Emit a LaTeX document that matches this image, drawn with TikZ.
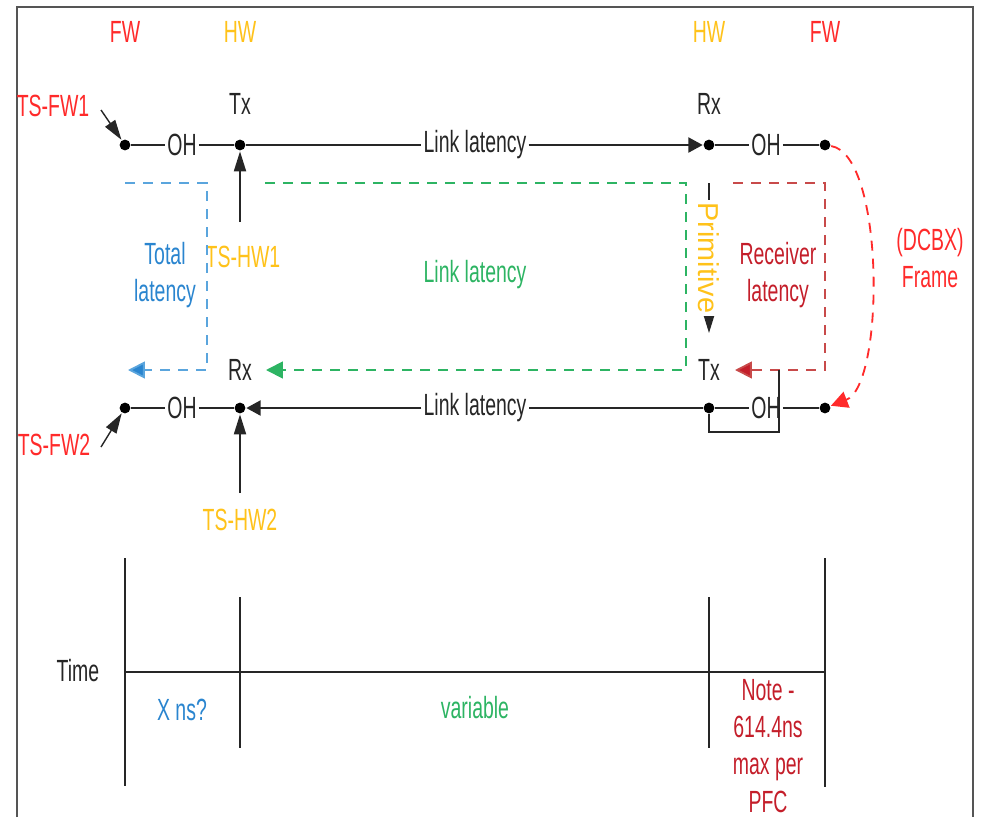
\documentclass[tikz,border=0pt]{standalone}
\usepackage{fontspec}
\setmainfont{Liberation Sans}[FakeStretch=0.635]
\newfontfamily\widefont{Liberation Sans}
\usetikzlibrary{arrows.meta, positioning}
\definecolor{cred}{HTML}{FF2A2A}
\definecolor{chw}{HTML}{FFC21A}
\definecolor{cblue}{HTML}{2A85CF}
\definecolor{cbluel}{HTML}{5AA5DD}
\definecolor{cgreen}{HTML}{2DB463}
\definecolor{cdred}{HTML}{C41E2A}
\definecolor{credl}{HTML}{C84A4A}
\definecolor{cline}{HTML}{262626}
\definecolor{cframe}{HTML}{555555}
\tikzset{
  every picture/.style={line width=1.3pt, draw=cline, text=cline},
  dot/.style={circle, fill=black, inner sep=0pt, minimum size=0.27cm},
  lbl/.style={inner sep=1pt},
  tip/.style={-{Triangle[length=0.36cm, width=0.38cm]}},
  lat/.style={dash pattern=on 0.25cm off 0.2cm},
  pointer/.style={-{Triangle[length=0.5cm, width=0.3cm]}},
}
\begin{document}
\begin{tikzpicture}[x=0.025cm, y=-0.025cm, font=\fontsize{21.8}{26.4}\selectfont]
  \useasboundingbox (0,0) rectangle (981,817);
  \draw[cframe, line width=1pt] (17,817) -- (17,7) -- (973,7) -- (973,817);

  % column heads
  \node[text=cred] (fwl) at (125,32) {FW};
  \node[text=chw] (hwl) at (240,32) {HW};
  \node[text=chw] (hwr) at (709,32) {HW};
  \node[text=cred] (fwr) at (825,32) {FW};

  % top row
  \node[dot] (d1) at (125,145) {};
  \node[lbl] (oh1) at (182,145) {OH};
  \node[dot] (t1) at (240,145) {};
  \node[lbl] (ll1) at (475,145) {Link latency};
  \node[dot] (r1) at (709,145) {};
  \node[lbl] (oh2) at (766,145) {OH};
  \node[dot] (f1) at (825,145) {};
  \draw (d1) -- (oh1) -- (t1) -- (ll1);
  \draw[tip] (ll1) -- (r1);
  \draw (r1) -- (oh2) -- (f1);
  \node (tx1) at (240,104) {Tx};
  \node (rx1) at (709,104) {Rx};

  \node[text=cred] (tsfw1) at (53,106) {TS-FW1};
  \coordinate (tsfw1a) at (101,110);
  \draw[pointer, line width=1pt] (tsfw1a) -- (d1);
  \node[text=chw] (tshw1) at (243,257) {TS-HW1};
  \coordinate (tshw1a) at (240,222);
  \draw[pointer] (tshw1a) -- (t1);

  % latency loops
  \coordinate (bl0) at (125,183);
  \coordinate (bl1) at (207,370);
  \coordinate (bl2) at (128,370);
  \draw[lat, draw=cbluel, -{Triangle[length=0.42cm, width=0.42cm, fill=cblue]}] (bl0) -| (bl1) -- (bl2);
  \node[text=cblue, align=center] (tot) at (165,275) {Total\\latency};

  \coordinate (gl0) at (265,183);
  \coordinate (gl1) at (686,370);
  \coordinate (gl2) at (266,370);
  \draw[lat, draw=cgreen, -{Triangle[length=0.42cm, width=0.42cm, fill=cgreen]}] (gl0) -| (gl1) -- (gl2);
  \node[text=cgreen] (llg) at (475,275) {Link latency};

  \coordinate (rl0) at (733,183);
  \coordinate (rl1) at (825,370);
  \coordinate (rl2) at (735,370);
  \draw[lat, draw=credl, -{Triangle[length=0.42cm, width=0.42cm, fill=cdred]}] (rl0) -| (rl1) -- (rl2);
  \node[text=cdred, align=center] (rcv) at (778,275) {Receiver\\latency};

  \coordinate (pr0) at (709,183);
  \coordinate (pr1) at (709,333);
  \draw[pointer, line width=1pt] (pr0) -- node[fill=white, rotate=-90, text=chw, inner sep=2pt,
    font=\widefont\fontsize{20.5}{24}\selectfont] (prim) {Primitive} (pr1);

  % bottom row
  \node[dot] (d2) at (125,408) {};
  \node[lbl] (oh3) at (182,408) {OH};
  \node[dot] (t2) at (240,408) {};
  \node[lbl] (ll2) at (475,408) {Link latency};
  \node[dot] (r2) at (709,408) {};
  \node[lbl] (oh4) at (766,408) {OH};
  \node[dot] (f2) at (825,408) {};
  \draw (d2) -- (oh3) -- (t2);
  \draw[tip] (ll2) -- (t2);
  \draw (r2) -- (ll2);
  \draw (r2) -- (oh4) -- (f2);
  \coordinate (br0) at (709,432);
  \coordinate (br1) at (779,370);
  \draw (r2) -- (br0) -| (br1);
  \node (rx2) at (240,370) {Rx};
  \node (tx2) at (709,370) {Tx};

  \node[text=cred] (tsfw2) at (54,445) {TS-FW2};
  \coordinate (tsfw2a) at (101,447);
  \draw[pointer, line width=1pt] (tsfw2a) -- (d2);
  \node[text=chw] (tshw2) at (240,520) {TS-HW2};
  \coordinate (tshw2a) at (240,493);
  \draw[pointer] (tshw2a) -- (t2);

  % DCBX frame
  \draw[draw=cred, dash pattern=on 0.25cm off 0.2cm, -{Triangle[length=0.42cm, width=0.42cm, fill=cred]}]
    (f1) .. controls (885,155) and (885,385) .. (f2);
  \node[text=cred, align=center] (dcbx) at (930,258) {(DCBX)\\Frame};

  % time line
  \draw (125,558) -- (125,786);
  \draw (240,597) -- (240,748);
  \draw (709,597) -- (709,748);
  \draw (825,558) -- (825,787);
  \draw (125,672) -- (825,672);
  \node (time) at (78,671) {Time};
  \node[text=cblue] (xns) at (182,710) {X ns?};
  \node[text=cgreen] (var) at (475,708) {variable};
  \node[text=cdred, align=center] (note) at (768,746) {Note -\\614.4ns\\max per\\PFC};
\end{tikzpicture}
\end{document}
